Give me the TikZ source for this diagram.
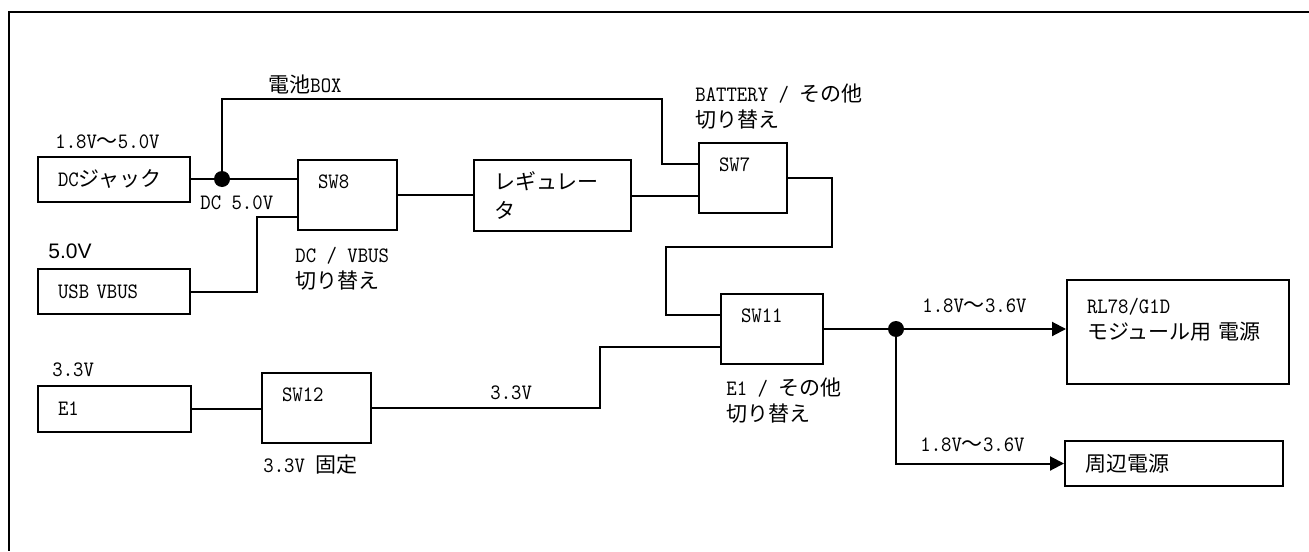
\documentclass[tikz,border=0pt]{standalone}
\usepackage{fontspec}
\setmainfont{Latin Modern Mono}[FakeStretch=0.9]
\newfontfamily\jpfont{Noto Sans CJK JP}[Scale=0.955]
\newfontfamily\arialfont{Liberation Sans}
\usetikzlibrary{arrows.meta,calc}
\definecolor{psink}{HTML}{000000}
\tikzset{
  ps text/.style={font=\fontsize{11pt}{13pt}\selectfont, text=psink},
  ps box/.style={draw=psink, line width=1pt, anchor=north west, inner xsep=10pt,
    inner ysep=0pt, align=left, ps text},
  ps wire/.style={draw=psink, line width=1pt},
  ps arrow/.style={ps wire, -{Triangle[length=7pt,width=7pt]}},
  ps dot/.style={circle, fill=psink, inner sep=0pt, minimum size=8pt},
  ps label/.style={anchor=west, inner sep=0pt, align=left, ps text}
}

\begin{document}
\begin{tikzpicture}[x=0.5pt, y=-0.5pt]
  \useasboundingbox (0,0) rectangle (1309,551);
  \draw[ps wire] (1309,12) -| (9,551);

  \node[ps box, text width=56pt, minimum height=22.5pt] (dcjack) at (37,155.5) {DC{\jpfont ジャック}};
  \node[ps box, text width=56pt, minimum height=22.5pt] (usb) at (37,268) {USB VBUS};
  \node[ps box, text width=56.5pt, minimum height=23pt] (e1) at (37,384.5) {E1};
  \node[ps box, text width=29.5pt, minimum height=35pt] (sw8) at (297,159) {SW8\\\mbox{}};
  \node[ps box, text width=58.5pt, minimum height=35.5pt] (reg) at (473,159) {{\jpfont レギュレー}\\[1.5pt]{\jpfont タ}};
  \node[ps box, text width=24pt, minimum height=35pt] (sw7) at (698,142) {SW7\\\mbox{}};
  \node[ps box, text width=31pt, minimum height=35pt] (sw11) at (720,293) {SW11\\\mbox{}};
  \node[ps box, text width=34.5pt, minimum height=35pt] (sw12) at (261,372) {SW12\\\mbox{}};
  \node[ps box, text width=91pt, minimum height=52pt] (rl78) at (1066,279) {RL78/G1D\\{\jpfont モジュール用 電源}\\\mbox{}};
  \node[ps box, text width=89pt, minimum height=22.5pt] (periph) at (1064,440) {{\jpfont 周辺電源}};

  \node[ps dot] (dcdot) at (222,179) {};
  \node[ps dot] (outdot) at (896,329) {};

  \coordinate (battop) at (662,99);
  \coordinate (batin) at ($(sw7.north west)!0.3!(sw7.south west)$);
  \coordinate (sw8in) at ($(sw8.north west)!0.8!(sw8.south west)$);
  \coordinate (usbup) at ($(sw8in)+(-40,0)$);
  \coordinate (sw7turn) at (832,247);
  \coordinate (sw11in) at ($(sw11.north west)!0.3!(sw11.south west)$);
  \coordinate (sw11up) at ($(sw11in)+(-54,0)$);
  \coordinate (e1in) at ($(sw11.north west)!0.75!(sw11.south west)$);
  \coordinate (e1up) at ($(e1in)+(-120,0)$);

  \draw[ps wire] (dcjack) -- (dcdot) -- (dcdot -| sw8.west);
  \draw[ps wire] (dcdot) |- (battop) |- (batin);
  \draw[ps wire] (usb) -| (usbup) -- (sw8in);
  \draw[ps wire] (sw8) -- (sw8 -| reg.west);
  \draw[ps wire] (reg) -- (reg -| sw7.west);
  \draw[ps wire] (sw7) -| (sw7turn) -| (sw11up) -- (sw11in);
  \draw[ps wire] (e1) -- (e1 -| sw12.west);
  \draw[ps wire] (sw12) -| (e1up) -- (e1in);
  \draw[ps wire] (sw11) -- (outdot);
  \draw[ps arrow] (outdot) -- (outdot -| rl78.west);
  \draw[ps arrow] (outdot) |- (periph);

  \node[ps label] (boxlbl) at (268,84) {{\jpfont 電池}BOX};
  \node[ps label] (dcvlbl) at (55,142) {1.8V{\jpfont 〜}5.0V};
  \node[ps label] (dc5lbl) at (200,203) {DC 5.0V};
  \node[ps label, font=\arialfont\fontsize{10.5pt}{13pt}\selectfont] (usbvlbl) at (48,251) {5.0V};
  \node[ps label] (sw8lbl) at (295,268.5) {DC / VBUS\\{\jpfont 切り替え}};
  \node[ps label] (sw7lbl) at (695,107) {BATTERY / {\jpfont その他}\\{\jpfont 切り替え}};
  \node[ps label] (e1vlbl) at (52,370) {3.3V};
  \node[ps label] (midvlbl) at (490,393) {3.3V};
  \node[ps label] (sw12lbl) at (263,465) {3.3V {\jpfont 固定}};
  \node[ps label] (sw11lbl) at (726,401) {E1 / {\jpfont その他}\\{\jpfont 切り替え}};
  \node[ps label] (rlvlbl) at (922,306) {1.8V{\jpfont 〜}3.6V};
  \node[ps label] (pvlbl) at (920,445) {1.8V{\jpfont 〜}3.6V};
\end{tikzpicture}
\end{document}
